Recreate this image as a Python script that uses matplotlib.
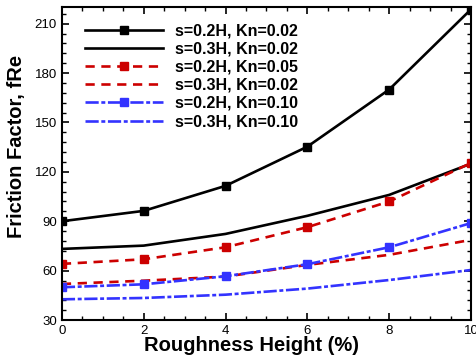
import matplotlib.pyplot as plt
from matplotlib.ticker import MultipleLocator

plt.rcParams['font.family'] = ['Liberation Sans', 'DejaVu Sans']

rough = [0, 2, 4, 6, 8, 10]

s02_kn002 = [90.0, 96.3, 111.5, 135.3, 170.0, 218.7]
s03_kn002 = [73.2, 75.2, 82.3, 93.3, 106.0, 125.0]
s02_kn005 = [64.1, 66.9, 74.2, 86.4, 102.0, 125.4]
s03_kn005 = [51.9, 53.9, 56.4, 63.5, 69.6, 78.7]
s02_kn010 = [49.9, 51.7, 56.6, 63.9, 74.2, 88.9]
s03_kn010 = [42.6, 43.4, 45.4, 49.1, 54.3, 60.4]

labels = ['s=0.2H, Kn=0.02', 's=0.3H, Kn=0.02', 's=0.2H, Kn=0.05',
          's=0.3H, Kn=0.02', 's=0.2H, Kn=0.10', 's=0.3H, Kn=0.10']

red = '#cc0000'
blue = '#3333ff'
dashed = (0, (3.5, 2.5))
dashdot = (0, (5, 1, 1.5, 1))

fig = plt.figure(figsize=(4.76, 3.6), dpi=100)
ax = fig.add_axes([0.130, 0.111, 0.8595, 0.869])

lw = 1.9
ax.plot(rough, s02_kn002, color='black', lw=lw, marker='s', ms=6, label=labels[0])
ax.plot(rough, s03_kn002, color='black', lw=lw, label=labels[1])
ax.plot(rough, s02_kn005, color=red, lw=lw, ls=dashed, marker='s', ms=6, label=labels[2])
ax.plot(rough, s03_kn005, color=red, lw=lw, ls=dashed, label=labels[3])
ax.plot(rough, s02_kn010, color=blue, lw=lw, ls=dashdot, marker='s', ms=6, label=labels[4])
ax.plot(rough, s03_kn010, color=blue, lw=lw, ls=dashdot, label=labels[5])

ax.set_xlim(0, 10)
ax.set_ylim(30, 220)
ax.xaxis.set_major_locator(MultipleLocator(2))
ax.xaxis.set_minor_locator(MultipleLocator(0.5))
ax.yaxis.set_major_locator(MultipleLocator(30))
ax.yaxis.set_minor_locator(MultipleLocator(6))
ax.tick_params(which='both', direction='in', top=True, right=True, labelsize=9.5)
ax.tick_params(which='major', length=5, width=1.2)
ax.tick_params(which='minor', length=3, width=1)
for sp in ax.spines.values():
    sp.set_linewidth(1.5)

ax.set_xlabel('Roughness Height (%)', fontsize=14.5, fontweight='bold')
ax.set_ylabel('Friction Factor, fRe', fontsize=14.5, fontweight='bold')
ax.xaxis.set_label_coords(0.463, -0.081)
ax.yaxis.set_label_coords(-0.11, 0.556)
ax.xaxis.label.set_va('center')
ax.yaxis.label.set_va('center')

leg = ax.legend(loc='upper left', bbox_to_anchor=(0.018, 1.0), frameon=False,
                prop={'size': 11.5, 'weight': 'bold'}, handlelength=4.9,
                handletextpad=0.75, labelspacing=0.2, borderaxespad=0.6)

fig.savefig('out.png', dpi=100)
